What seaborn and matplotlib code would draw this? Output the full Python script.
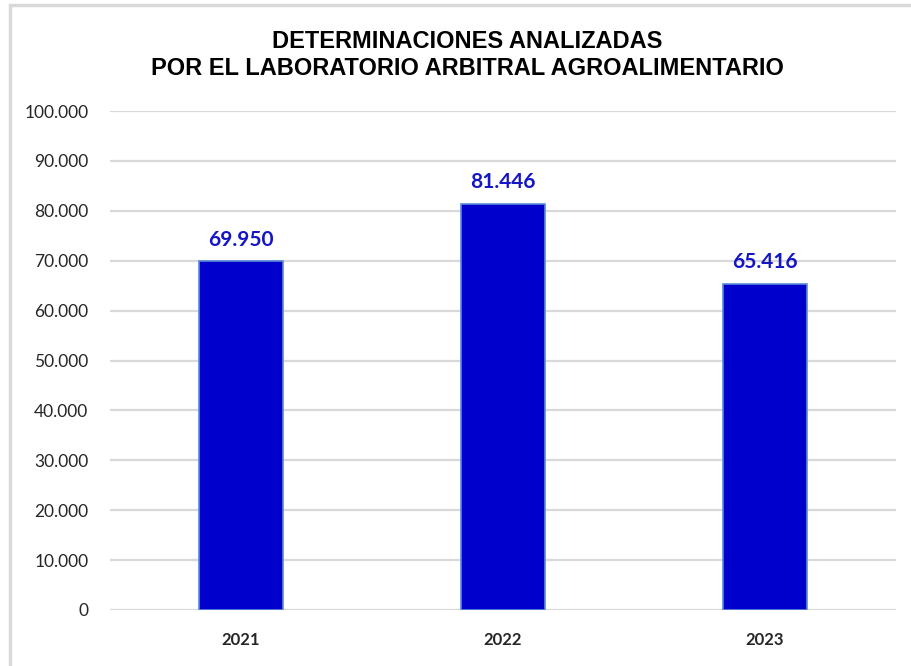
import matplotlib.pyplot as plt
import seaborn as sns
import pandas as pd
from matplotlib.patches import Rectangle
from matplotlib.ticker import FuncFormatter

# ==========================================
# 数据
# ==========================================
years = ["2021", "2022", "2023"]
determinaciones = [69950, 81446, 65416]

df = pd.DataFrame({"Año": years, "Determinaciones": determinaciones})

# ==========================================
# 样式
# ==========================================
sns.set_theme(style="white", rc={
    "axes.edgecolor": "white",
    "grid.color": "#d9d9d9",
})
plt.rcParams["font.family"] = ["Lato", "DejaVu Sans"]

fig = plt.figure(figsize=(9.11, 6.66), dpi=100)
ax = fig.add_axes([0.1207, 0.0841, 0.8628, 0.7492])

sns.barplot(
    x="Año",
    y="Determinaciones",
    data=df,
    color="#0000CC",
    saturation=1,
    width=0.32,
    edgecolor="#5b8bd6",
    linewidth=1.2,
    ax=ax,
)

# 数值标签
for patch, val in zip(ax.patches, determinaciones):
    ax.annotate(f"{val:,}".replace(",", "."),
                (patch.get_x() + patch.get_width() / 2, patch.get_height()),
                xytext=(0, 8), textcoords="offset points",
                ha="center", va="bottom", color="#1515C8",
                fontsize=15, fontweight="bold")

ax.set_ylim(0, 100000)
ax.set_yticks(range(0, 100001, 10000))
ax.yaxis.set_major_formatter(FuncFormatter(lambda v, p: f"{int(v):,}".replace(",", ".")))
ax.yaxis.grid(True, color="#d9d9d9", linewidth=1.6)
ax.set_axisbelow(True)
ax.tick_params(axis="y", labelsize=12.5, length=0, pad=15.5, labelcolor="#262626")
ax.tick_params(axis="x", labelsize=12, length=0, pad=16)
for lbl in ax.get_xticklabels():
    lbl.set_fontweight("bold")
ax.set_xlabel("")
ax.set_ylabel("")
for s in ax.spines.values():
    s.set_visible(False)

# 标题
fig.text(0.513, 0.918, "DETERMINACIONES ANALIZADAS\nPOR EL LABORATORIO ARBITRAL AGROALIMENTARIO",
         ha="center", va="center", fontsize=17, fontweight="bold",
         family=["Liberation Sans Narrow", "Liberation Sans", "DejaVu Sans"],
         linespacing=1.22, color="black")

# 外框
fig.add_artist(Rectangle((9.5 / 911, -0.1), 1.2, 1 - 5 / 666 + 0.1,
                         transform=fig.transFigure, fill=False,
                         edgecolor="#d9d9d9", linewidth=2.5))

plt.savefig("out.png", dpi=100)
